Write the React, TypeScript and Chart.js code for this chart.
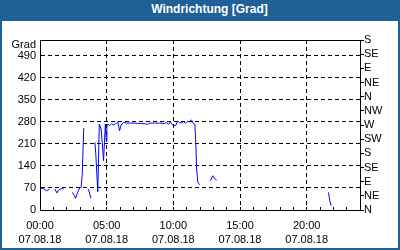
import React, { useEffect, useRef } from 'react';
import { Chart, registerables } from 'chart.js';

Chart.register(...registerables);

const TITLE = 'Windrichtung [Grad]';
const UNIT_LABEL = 'Grad';
const DATE_LABEL = '07.08.18';

// Measurement times (HH:MM) and wind direction in degrees (null = no data)
const TIMES = [
  '00:02', '00:15', '00:29', '00:38', '00:44', '00:50',
  '01:07', '01:16', '01:23', '01:32', '01:46', '02:00',
  '02:26', '02:35', '02:40', '02:49', '02:58', '03:05', '03:10', '03:17', '03:25',
  '03:38', '03:49', '03:55',
  '04:07', '04:11', '04:20', '04:27', '04:35', '04:40', '04:46', '04:50', '04:54', '04:58',
  '05:01', '05:05', '05:12', '05:22', '05:30', '05:40', '05:50', '05:58', '06:05', '06:16',
  '06:28', '06:42', '07:05', '07:28', '07:50', '08:04', '08:13', '08:35', '08:58', '09:20',
  '09:29', '09:38', '09:47', '09:53', '10:00', '10:10', '10:19', '10:28', '10:37', '10:46',
  '10:55', '11:04', '11:13', '11:22', '11:30', '11:37', '11:41', '11:45', '11:50', '11:58',
  '12:10',
  '12:47', '12:57', '13:05', '13:15', '13:30',
  '21:38', '21:44', '21:50',
];
const DIRECTIONS: (number | null)[] = [
  70, 68, 61, 64, 67, null,
  67, 54, 63, 67, 68, null,
  56, 45, 37, 55, 70, 72, 114, 260, null,
  67, 37, null,
  215, 180, 58, 273, 257, 215, 157, 215, 273, 220,
  265, 273, 268, 274, 270, 274, 280, 252, 270, 278,
  276, 276, 276, 275, 274, 272, 276, 276, 276, 275,
  278, 272, 280, 272, 268, 268, 282, 278, 276, 281,
  275, 282, 280, 286, 275, 272, 215, 130, 88, 80,
  null,
  93, 109, 100, 95, null,
  56, 30, 14,
];

const LEFT_TICKS = [0, 70, 140, 210, 280, 350, 420, 490];
const Y_MAX = 540;
const COMPASS_STEP = 45;
const COMPASS_LABELS = ['N', 'NE', 'E', 'SE', 'S', 'SW', 'W', 'NW', 'N', 'NE', 'E', 'SE', 'S'];
const X_MAJOR_HOURS = [0, 5, 10, 15, 20];
const X_MAX_HOURS = 24;

const FONT = '"Liberation Sans", Arial, sans-serif';
const BLUE = '#1f6097';

const toHours = (s: string) => {
  const [h, m] = s.split(':').map(Number);
  return h + m / 60;
};
const fmtHour = (h: number) => `${String(h).padStart(2, '0')}:00`;

const frameTop = {
  id: 'frameTop',
  beforeDatasetsDraw(chart: any) {
    const { ctx, chartArea } = chart;
    ctx.save();
    ctx.strokeStyle = '#000';
    ctx.lineWidth = 1;
    ctx.beginPath();
    ctx.moveTo(chartArea.left, chartArea.top + 0.5);
    ctx.lineTo(chartArea.right + 1, chartArea.top + 0.5);
    ctx.stroke();
    ctx.restore();
  },
};

export default function App() {
  const ref = useRef<HTMLCanvasElement>(null);

  useEffect(() => {
    const points = TIMES.map((t, i) => ({ x: toHours(t), y: DIRECTIONS[i] }));
    const chart = new Chart(ref.current as HTMLCanvasElement, {
      type: 'line',
      data: {
        datasets: [
          {
            data: points as any,
            borderColor: '#0000ff',
            borderWidth: 1,
            pointRadius: 0,
            tension: 0,
            spanGaps: false,
            fill: false,
          },
        ],
      },
      options: {
        animation: false,
        responsive: false,
        events: [],
        layout: { padding: { top: 19, left: 0, right: 0, bottom: 0 } },
        plugins: { legend: { display: false }, tooltip: { enabled: false }, title: { display: false } },
        scales: {
          x: {
            type: 'linear',
            position: 'bottom',
            min: 0,
            max: X_MAX_HOURS,
            afterFit: (s: any) => { s.height = 38; },
            grid: {
              color: (c: any) =>
                c.tick && c.tick.value !== 0 && X_MAJOR_HOURS.includes(c.tick.value) ? '#000' : 'rgba(0,0,0,0)',
              tickColor: '#000',
              tickLength: -3,
              drawTicks: true,
              lineWidth: 1,
            },
            border: { display: true, color: '#000', width: 1, dash: [4, 3] },
            ticks: {
              stepSize: 1,
              autoSkip: false,
              maxRotation: 0,
              padding: 12,
              color: '#000',
              font: { family: FONT, size: 11, lineHeight: 1.3 },
              callback: (v: any) => (X_MAJOR_HOURS.includes(v) ? [fmtHour(v), DATE_LABEL] : ''),
            },
          },
          y: {
            type: 'linear',
            position: 'left',
            min: 0,
            max: Y_MAX,
            afterFit: (s: any) => { s.width = 38; },
            afterBuildTicks: (s: any) => {
              s.ticks = [...LEFT_TICKS, Y_MAX].map((value) => ({ value }));
            },
            grid: {
              color: (c: any) =>
                c.tick && c.tick.value !== 0 && c.tick.value !== Y_MAX ? '#000' : 'rgba(0,0,0,0)',
              drawTicks: false,
              lineWidth: 1,
            },
            border: { display: true, color: '#000', width: 1, dash: [4, 3] },
            ticks: {
              autoSkip: false,
              padding: 4,
              color: '#000',
              font: (c: any) =>
                c.tick && c.tick.value === Y_MAX
                  ? { family: FONT, size: 11, lineHeight: '10px' }
                  : { family: FONT, size: 11, lineHeight: 1.2 },
              callback: (v: any) => (v === Y_MAX ? ['', UNIT_LABEL] : String(v)),
            },
          },
          y2: {
            type: 'linear',
            position: 'right',
            min: 0,
            max: Y_MAX,
            afterFit: (s: any) => { s.width = 38; },
            grid: {
              drawOnChartArea: false,
              drawTicks: true,
              tickLength: 4,
              tickColor: '#000',
              color: '#000',
            },
            border: { display: true, color: '#000', width: 1 },
            ticks: {
              stepSize: COMPASS_STEP,
              autoSkip: false,
              padding: 0,
              color: '#000',
              font: { family: FONT, size: 11, lineHeight: 1.2 },
              callback: (v: any) => COMPASS_LABELS[Math.round(v / COMPASS_STEP)] ?? '',
            },
          },
        },
      },
      plugins: [frameTop],
    } as any);
    return () => chart.destroy();
  }, []);

  return (
    <div
      style={{
        position: 'fixed',
        left: 0,
        top: 0,
        width: 400,
        height: 250,
        boxSizing: 'border-box',
        border: `2px solid ${BLUE}`,
        background: '#fff',
        overflow: 'hidden',
      }}
    >
      <div
        style={{
          height: 19,
          background: BLUE,
          color: '#fff',
          font: `bold 12px ${FONT}`,
          lineHeight: '15px',
          textAlign: 'center',
          paddingLeft: 19,
          boxSizing: 'border-box',
        }}
      >
        {TITLE}
      </div>
      <canvas ref={ref} width={396} height={227} style={{ display: 'block', width: 396, height: 227 }} />
    </div>
  );
}
